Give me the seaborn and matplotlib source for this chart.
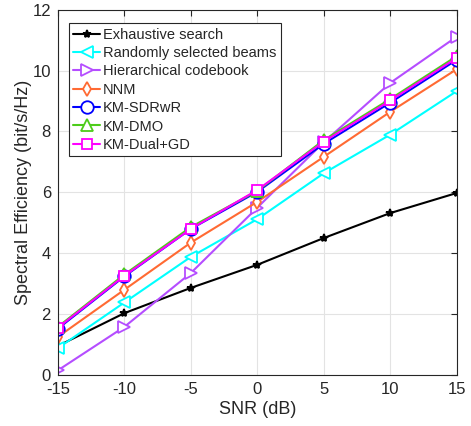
import numpy as np
import pandas as pd
import matplotlib
matplotlib.use('Agg')
import matplotlib.pyplot as plt
import seaborn as sns

# Data
snr = [-15, -10, -5, 0, 5, 10, 15]
exhaustive = [0.95, 2.03, 2.86, 3.62, 4.50, 5.32, 5.98]
random_beams = [0.88, 2.38, 3.88, 5.12, 6.63, 7.90, 9.33]
hierarchical = [0.15, 1.58, 3.35, 5.50, 7.65, 9.60, 11.12]
nnm = [1.25, 2.80, 4.35, 5.69, 7.17, 8.65, 10.05]
km_sdrwr = [1.52, 3.24, 4.80, 6.02, 7.60, 8.95, 10.36]
km_dmo = [1.58, 3.30, 4.86, 6.05, 7.72, 9.07, 10.48]
km_dual = [1.55, 3.26, 4.80, 6.08, 7.67, 9.02, 10.42]

labels = ['Exhaustive search', 'Randomly selected beams', 'Hierarchical codebook',
          'NNM', 'KM-SDRwR', 'KM-DMO', 'KM-Dual+GD']
series = [exhaustive, random_beams, hierarchical, nnm, km_sdrwr, km_dmo, km_dual]
colors = ['black', '#00FFFF', '#B54DFF', '#FF6A33', '#0000FF', '#4DCC1A', '#FF00FF']
markers = ['*', '<', '>', 'd', 'o', '^', 's']
msizes = [6, 8, 8, 7, 9, 9, 7]

sns.set_style('whitegrid')
plt.rcParams['font.family'] = ['Liberation Sans', 'DejaVu Sans']

fig = plt.figure(figsize=(4.71, 4.26), dpi=100)
ax = fig.add_axes([0.123, 0.120, 0.847, 0.857])

for lab, vals, c, m, ms in zip(labels, series, colors, markers, msizes):
    df = pd.DataFrame({'SNR': snr, 'SE': vals})
    face = c if m == '*' else 'white'
    sns.lineplot(data=df, x='SNR', y='SE', ax=ax, color=c, marker=m,
                 markersize=ms, markerfacecolor=face, markeredgecolor=c,
                 markeredgewidth=1.3, linewidth=1.5, label=lab)

ax.set_xlim(-15, 15)
ax.set_ylim(0, 12)
ax.set_xticks(snr)
ax.set_xticklabels([str(s) for s in snr])
ax.set_yticks(np.arange(0, 13, 2))
ax.set_xlabel('SNR (dB)', fontsize=13, labelpad=3)
ax.set_ylabel('Spectral Efficiency (bit/s/Hz)', fontsize=13, labelpad=0)
ax.tick_params(labelsize=12, direction='in', length=4, pad=5, colors='#262626',
               top=True, right=True)
ax.grid(True, color='#E3E3E3', linewidth=0.8)
for sp in ax.spines.values():
    sp.set_edgecolor('#262626')
    sp.set_linewidth(0.8)

leg = ax.legend(loc='upper left', bbox_to_anchor=(0.027, 0.963), borderaxespad=0,
                fontsize=10.5, frameon=True, fancybox=False,
                edgecolor='#262626', framealpha=1,
                handlelength=1.85, handletextpad=0.2, labelspacing=0.3,
                borderpad=0.3)
leg.get_frame().set_linewidth(0.8)

fig.savefig('out.png', dpi=100)
